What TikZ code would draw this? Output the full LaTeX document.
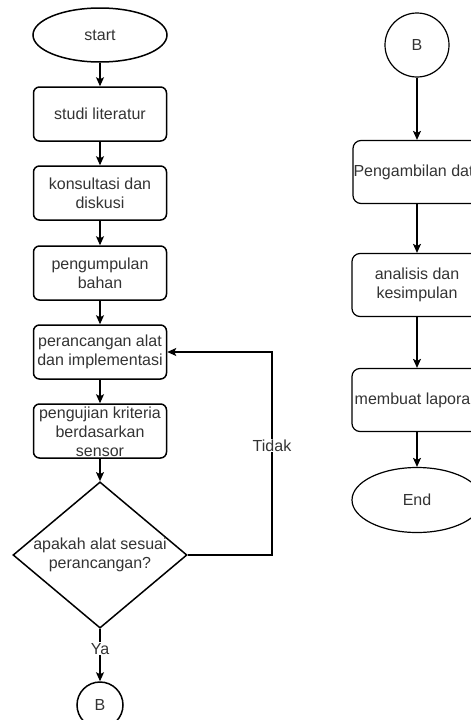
\documentclass[tikz,border=0pt]{standalone}
\usepackage{fontspec}
\setmainfont{Liberation Sans}
\usetikzlibrary{shapes.geometric,arrows.meta}
\definecolor{teks}{HTML}{333333}
\begin{document}
\begin{tikzpicture}[x=1pt,y=-1pt,
    tulisan/.style={text=teks, font=\fontsize{16}{19.2}\selectfont, align=center, inner sep=0pt},
    proses/.style={tulisan, draw, rounded corners=6pt, line width=1.5pt, minimum width=133pt, minimum height=54pt},
    proses2/.style={tulisan, draw, rounded corners=8pt, line width=1.2pt, minimum width=130pt, minimum height=63pt},
    terminal/.style={tulisan, draw, ellipse, line width=1.5pt},
    konektor/.style={tulisan, draw, circle, line width=1.5pt},
    keputusan/.style={tulisan, draw, diamond, aspect=1.19, line width=1.5pt, minimum width=173pt, minimum height=145pt},
    panah/.style={-{Stealth[length=9pt,width=8pt,inset=2pt]}, line width=1.2pt},
    label/.style={tulisan, fill=white, inner sep=1pt}]
  \useasboundingbox (0,0) rectangle (471,720);
  \clip (0,0) rectangle (471,720);
  % kolom kiri
  \node[terminal, minimum width=134pt, minimum height=54pt] (start) at (100,35) {start};
  \node[proses] (studi) at (100,114) {studi literatur};
  \node[proses] (konsul) at (100,193) {konsultasi dan\\diskusi};
  \node[proses] (kumpul) at (100,273) {pengumpulan\\bahan};
  \node[proses] (rancang) at (100,352) {perancangan alat\\dan implementasi};
  \node[proses] (uji) at (100,431) {\raisebox{-7pt}[8pt][8pt]{\begin{tabular}{@{}c@{}}pengujian kriteria\\berdasarkan\\sensor\end{tabular}}};
  \node[keputusan] (cek) at (100,555) {apakah alat sesuai\\perancangan?};
  \node[konektor, minimum size=46pt] (b1) at (100,705) {B};
  \coordinate (balik) at (272,555);
  \coordinate (atas) at (272,352);
  \draw[panah] (start) -- (studi);
  \draw[panah] (studi) -- (konsul);
  \draw[panah] (konsul) -- (kumpul);
  \draw[panah] (kumpul) -- (rancang);
  \draw[panah] (rancang) -- (uji);
  \draw[panah] (uji) -- (cek);
  \draw[panah] (cek) -- node[label, pos=0.38] (ya) {Ya} (b1);
  \draw[panah] (cek.east) -- (balik) -- node[label, pos=0.54] (tidak) {Tidak} (atas) -- (rancang.east);
  % kolom kanan
  \node[konektor, line width=1.2pt, minimum size=64pt] (b2) at (417,45) {B};
  \node[proses2] (ambil) at (418,172) {Pengambilan data};
  \node[proses2] (analisis) at (417,285) {analisis dan\\kesimpulan};
  \node[proses2] (lapor) at (417,400) {membuat laporan};
  \node[terminal, line width=1.2pt, minimum width=130pt, minimum height=65pt] (end) at (417,500) {End};
  \draw[panah] (b2) -- (ambil.north -| b2);
  \draw[panah] (ambil.south -| b2) -- (analisis);
  \draw[panah] (analisis) -- (lapor);
  \draw[panah] (lapor) -- (end);
\end{tikzpicture}
\end{document}
